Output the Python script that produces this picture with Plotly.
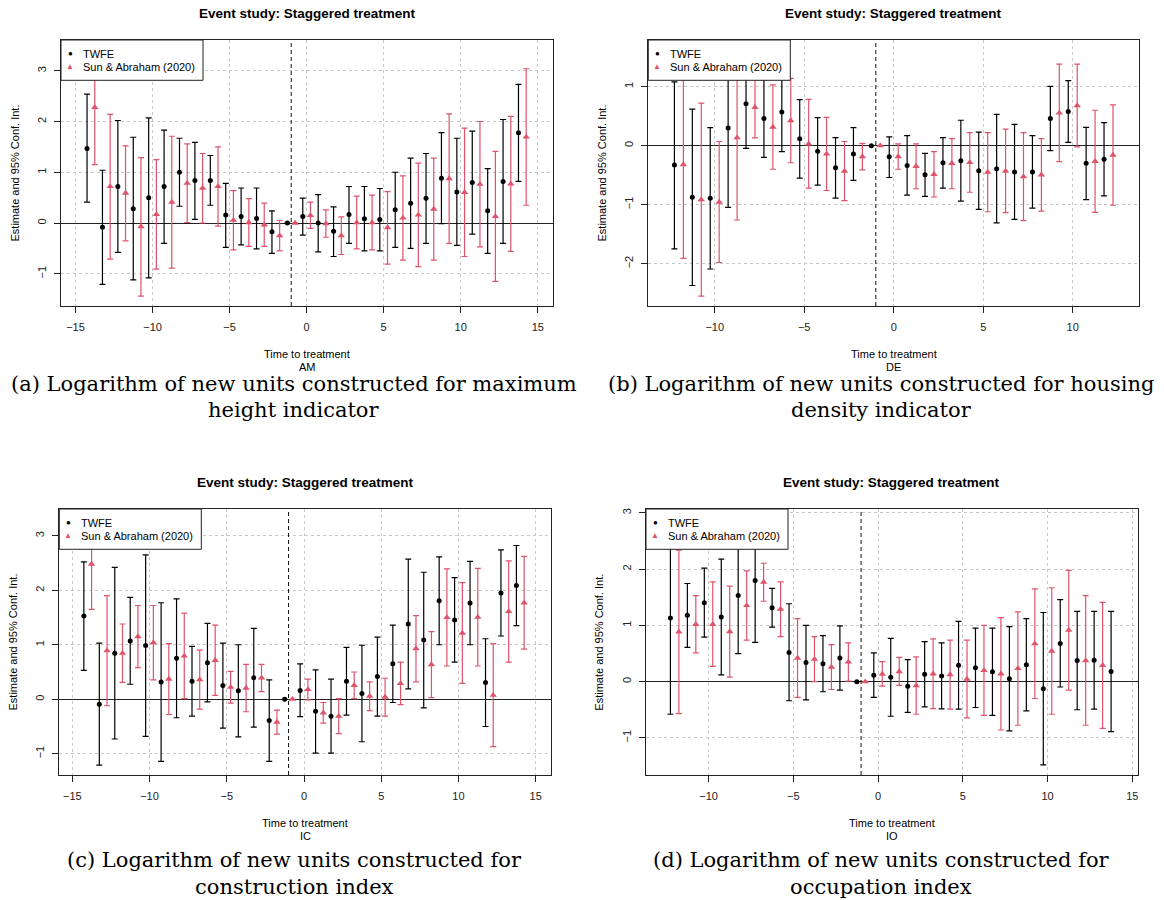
import plotly.graph_objects as go

W, H = 1164, 900


def px(x):
    return x / W


def py(y):
    return 1 - y / H


RED = "#DF536B"
SANS = "Liberation Sans, Arial, Helvetica, sans-serif"
SERIF = "DejaVu Serif, serif"

# ---------------- data ----------------
# Panel (a) AM
AM_periods = list(range(-14, 15))
AM_twfe_est = [1.47, -0.085, 0.72, 0.28, 0.50, 0.72, 1.00, 0.84, 0.84, 0.16, 0.13, 0.09, -0.17, 0.0,
               0.13, 0.00, -0.16, 0.17, 0.085, 0.07, 0.26, 0.39, 0.49, 0.88, 0.61, 0.80, 0.24, 0.82, 1.78]
AM_twfe_lo = [0.41, -1.21, -0.58, -1.12, -1.08, -0.40, 0.33, 0.07, 0.35, -0.48, -0.43, -0.51, -0.60, None,
              -0.24, -0.57, -0.66, -0.40, -0.55, -0.55, -0.48, -0.50, -0.40, -0.01, -0.44, -0.22, -0.60, -0.40, 0.82]
AM_twfe_hi = [2.54, 1.04, 2.02, 1.69, 2.07, 1.83, 1.67, 1.59, 1.33, 0.78, 0.69, 0.69, 0.24, None,
              0.49, 0.56, 0.32, 0.72, 0.72, 0.68, 1.00, 1.28, 1.37, 1.78, 1.67, 1.81, 1.07, 2.04, 2.73]
AM_sa_est = [2.28, 0.72, 0.59, -0.07, 0.17, 0.41, 0.785, 0.69, 0.72, 0.055, 0.01, -0.035, -0.25, 0.0,
             0.15, -0.01, -0.25, 0.01, 0.01, -0.09, 0.10, 0.16, 0.275, 0.875, 0.605, 0.765, 0.13, 0.77, 1.695]
AM_sa_lo = [1.15, -0.71, -0.35, -1.44, -0.91, -0.89, 0.01, 0.00, -0.06, -0.53, -0.46, -0.46, -0.55, None,
            -0.105, -0.28, -0.62, -0.51, -0.53, -0.81, -0.73, -0.86, -0.73, -0.40, -0.66, -0.47, -1.15, -0.56, 0.35]
AM_sa_hi = [3.41, 2.14, 1.52, 1.29, 1.25, 1.71, 1.56, 1.37, 1.50, 0.64, 0.48, 0.39, 0.05, None,
            0.41, 0.26, 0.12, 0.53, 0.55, 0.62, 0.93, 1.18, 1.28, 2.15, 1.87, 2.00, 1.41, 2.10, 3.04]

# Panel (b) DE
DE_periods = list(range(-12, 13))
DE_twfe_est = [-0.33, -0.875, -0.89, 0.30, 0.71, 0.46, 0.57, 0.115, -0.095, -0.375, -0.14, 0.0,
               -0.19, -0.335, -0.495, -0.29, -0.255, -0.425, -0.39, -0.445, -0.445, 0.46, 0.58, -0.30, -0.23]
DE_twfe_lo = [-1.75, -2.37, -2.09, -1.045, -0.045, -0.20, -0.10, -0.55, -0.67, -0.89, -0.59, None,
              -0.54, -0.84, -0.86, -0.72, -0.94, -1.08, -1.31, -1.25, -1.06, -0.085, 0.056, -0.915, -0.85]
DE_twfe_hi = [1.08, 0.62, 0.305, 1.65, 1.47, 1.12, 1.24, 0.78, 0.475, 0.135, 0.305, None,
              0.15, 0.17, -0.13, 0.135, 0.43, 0.23, 0.53, 0.36, 0.17, 1.005, 1.10, 0.31, 0.39]
DE_sa_est = [-0.32, -0.915, -0.955, 0.135, 0.65, 0.315, 0.425, 0.03, -0.14, -0.43, -0.185, 0.0,
             -0.185, -0.35, -0.485, -0.30, -0.285, -0.45, -0.43, -0.525, -0.495, 0.555, 0.68, -0.265, -0.16]
DE_sa_lo = [-1.91, -2.55, -1.98, -1.26, 0.13, -0.40, -0.29, -0.72, -0.76, -0.93, -0.41, None,
            -0.40, -0.73, -0.87, -0.73, -0.79, -1.12, -1.135, -1.27, -1.11, -0.27, -0.02, -1.13, -1.01]
DE_sa_hi = [1.27, 0.72, 0.07, 1.53, 1.17, 1.03, 1.14, 0.785, 0.48, 0.07, 0.04, None,
            0.03, 0.03, -0.10, 0.12, 0.22, 0.22, 0.28, 0.22, 0.12, 1.38, 1.38, 0.60, 0.69]

# Panel (c) IC
IC_periods = list(range(-14, 15))
IC_twfe_est = [1.525, -0.09, 0.845, 1.07, 0.985, 0.315, 0.75, 0.33, 0.67, 0.25, 0.155, 0.395, -0.39, 0.0,
               0.16, -0.22, -0.31, 0.33, 0.105, 0.415, 0.65, 1.38, 1.085, 1.805, 1.455, 1.765, 0.305, 1.95, 2.085]
IC_twfe_lo = [0.53, -1.21, -0.73, 0.275, -0.68, -1.14, -0.34, -0.31, -0.05, -0.53, -0.69, -0.51, -1.14, None,
              -0.32, -0.99, -0.99, -0.29, -0.78, -0.31, -0.06, 0.19, -0.16, 1.00, 0.68, 1.00, -0.50, 1.16, 1.35]
IC_twfe_hi = [2.52, 1.03, 2.42, 1.87, 2.65, 1.77, 1.84, 0.97, 1.39, 1.03, 1.00, 1.30, 0.355, None,
              0.65, 0.54, 0.37, 0.95, 0.99, 1.14, 1.36, 2.57, 2.33, 2.61, 2.23, 2.53, 1.11, 2.74, 2.82]
IC_sa_est = [2.48, 0.89, 0.845, 1.15, 1.04, 0.37, 0.795, 0.36, 0.715, 0.22, 0.205, 0.39, -0.42, 0.0,
             0.18, -0.25, -0.31, 0.255, 0.055, 0.04, 0.29, 0.93, 0.635, 1.50, 1.215, 1.505, 0.075, 1.61, 1.77]
IC_sa_lo = [1.65, -0.12, 0.31, 0.58, 0.355, -0.28, 0.01, -0.18, 0.07, -0.07, -0.23, 0.14, -0.64, None,
            -0.01, -0.44, -0.63, 0.01, -0.21, -0.31, -0.10, 0.32, 0.03, 0.61, 0.29, 0.61, -0.87, 0.68, 0.92]
IC_sa_hi = [3.31, 1.90, 1.38, 1.72, 1.72, 1.02, 1.58, 0.90, 1.36, 0.51, 0.64, 0.64, -0.20, None,
            0.37, -0.06, 0.01, 0.50, 0.32, 0.385, 0.68, 1.535, 1.24, 2.39, 2.14, 2.40, 1.02, 2.54, 2.62]

# Panel (d) IO
IO_twfe_periods = list(range(-12, 15))
IO_twfe_est = [1.13, 1.18, 1.405, 1.15, 1.53, 1.80, 1.315, 0.52, 0.34, 0.32, 0.42, 0.0,
               0.115, 0.08, -0.08, 0.13, 0.10, 0.29, 0.245, 0.175, 0.05, 0.30, -0.125, 0.68, 0.375, 0.38, 0.18]
IO_twfe_lo = [-0.58, 0.61, 0.79, 0.12, 0.50, 0.70, 0.97, -0.34, -0.325, -0.18, -0.15, None,
              -0.28, -0.615, -0.545, -0.45, -0.485, -0.49, -0.46, -0.60, -0.875, -0.52, -1.48, -0.095, -0.50, -0.49, -0.89]
IO_twfe_hi = [2.84, 1.745, 2.02, 2.18, 2.56, 2.90, 1.66, 1.385, 1.00, 0.82, 0.99, None,
              0.51, 0.77, 0.39, 0.71, 0.69, 1.07, 0.95, 0.95, 0.98, 1.12, 1.23, 1.46, 1.25, 1.25, 1.25]
IO_sa_periods = list(range(-12, 14))
IO_sa_est = [0.885, 1.02, 1.02, 0.89, 1.355, 1.77, 1.29, 0.42, 0.40, 0.26, 0.35, 0.0,
             0.135, 0.18, -0.07, 0.14, 0.125, 0.045, 0.20, 0.14, 0.235, 0.675, 0.545, 0.915, 0.375, 0.29]
IO_sa_lo = [-0.57, 0.51, 0.27, 0.08, 0.74, 1.43, 0.80, -0.28, 0.00, -0.14, 0.01, None,
            -0.08, -0.065, -0.58, -0.48, -0.49, -0.645, -0.60, -0.86, -0.775, -0.30, -0.58, -0.15, -0.775, -0.83]
IO_sa_hi = [2.34, 1.53, 1.775, 1.70, 1.97, 2.105, 1.775, 1.12, 0.80, 0.66, 0.69, None,
            0.355, 0.43, 0.44, 0.76, 0.74, 0.74, 1.00, 1.14, 1.24, 1.65, 1.67, 1.98, 1.53, 1.41]

TITLE = "Event study: Staggered treatment"
XLAB = "Time to treatment"
YLAB = "Estimate and 95% Conf. Int."
LEG_TWFE = "TWFE"
LEG_SA = "Sun & Abraham (2020)"

panels = [
    dict(sub="AM", tp=AM_periods, te=AM_twfe_est, tl=AM_twfe_lo, th=AM_twfe_hi,
         sp=AM_periods, se=AM_sa_est, sl=AM_sa_lo, sh=AM_sa_hi,
         box=(61, 40, 553, 306), xr=[-15.94, 15.99], yr=[-1.635, 3.606],
         xt=[-15, -10, -5, 0, 5, 10, 15], yt=[-1, 0, 1, 2, 3],
         ylab_x=14.5,
         cap=["(a) Logarithm of new units constructed for maximum", "height indicator"],
         cap_x=294, cap_y=[383.5, 410]),
    dict(sub="DE", tp=DE_periods, te=DE_twfe_est, tl=DE_twfe_lo, th=DE_twfe_hi,
         sp=DE_periods, se=DE_sa_est, sl=DE_sa_lo, sh=DE_sa_hi,
         box=(648.3, 40, 1139.3, 306), xr=[-13.71, 13.72], yr=[-2.717, 1.79],
         xt=[-10, -5, 0, 5, 10], yt=[-2, -1, 0, 1],
         ylab_x=601.5,
         cap=["(b) Logarithm of new units constructed for housing", "density indicator"],
         cap_x=881, cap_y=[383.5, 410]),
    dict(sub="IC", tp=IC_periods, te=IC_twfe_est, tl=IC_twfe_lo, th=IC_twfe_hi,
         sp=IC_periods, se=IC_sa_est, sl=IC_sa_lo, sh=IC_sa_hi,
         box=(59.3, 509, 550.7, 775), xr=[-15.84, 15.97], yr=[-1.39, 3.49],
         xt=[-15, -10, -5, 0, 5, 10, 15], yt=[-1, 0, 1, 2, 3],
         ylab_x=12.5,
         cap=["(c) Logarithm of new units constructed for", "construction index"],
         cap_x=294, cap_y=[860, 886.5]),
    dict(sub="IO", tp=IO_twfe_periods, te=IO_twfe_est, tl=IO_twfe_lo, th=IO_twfe_hi,
         sp=IO_sa_periods, se=IO_sa_est, sl=IO_sa_lo, sh=IO_sa_hi,
         box=(646, 509, 1137.7, 775), xr=[-13.69, 15.32], yr=[-1.66, 3.07],
         xt=[-10, -5, 0, 5, 10, 15], yt=[-1, 0, 1, 2, 3],
         ylab_x=598.7,
         cap=["(d) Logarithm of new units constructed for", "occupation index"],
         cap_x=881, cap_y=[860, 886.5]),
]


def err_plus(est, hi):
    return [None if h is None else h - e for e, h in zip(est, hi)]


def err_minus(est, lo):
    return [None if l is None else e - l for e, l in zip(est, lo)]


fig = go.Figure()
annotations = []
shapes = []
layout_axes = {}

for i, p in enumerate(panels):
    n = "" if i == 0 else str(i + 1)
    xa, ya = "x" + n, "y" + n
    L, T, R, B = p["box"]

    fig.add_trace(go.Scatter(
        x=[k - 0.25 for k in p["tp"]], y=p["te"], xaxis=xa, yaxis=ya,
        mode="markers", showlegend=False, hoverinfo="skip",
        marker=dict(symbol="circle", size=5, color="black"),
        error_y=dict(type="data", symmetric=False,
                     array=err_plus(p["te"], p["th"]),
                     arrayminus=err_minus(p["te"], p["tl"]),
                     color="black", thickness=1.2, width=3)))
    fig.add_trace(go.Scatter(
        x=[k + 0.25 for k in p["sp"]], y=p["se"], xaxis=xa, yaxis=ya,
        mode="markers", showlegend=False, hoverinfo="skip",
        marker=dict(symbol="triangle-up", size=6.5, color=RED),
        error_y=dict(type="data", symmetric=False,
                     array=err_plus(p["se"], p["sh"]),
                     arrayminus=err_minus(p["se"], p["sl"]),
                     color=RED, thickness=1.2, width=3)))

    common = dict(showline=True, mirror=True, linecolor="#222222", linewidth=1,
                  ticks="outside", ticklen=6, tickcolor="#222222", tickwidth=1,
                  showgrid=True, gridcolor="#C8C8C8", griddash="dot", gridwidth=1,
                  tickfont=dict(family=SANS, size=11, color="#222222"))
    layout_axes["xaxis" + n] = dict(domain=[px(L), px(R)], range=p["xr"], anchor=ya,
                                    tickvals=p["xt"], zeroline=False,
                                    ticklabelstandoff=5, **common)
    layout_axes["yaxis" + n] = dict(domain=[py(B), py(T)], range=p["yr"], anchor=xa,
                                    tickvals=p["yt"], tickangle=-90,
                                    zeroline=True, zerolinecolor="#222222", zerolinewidth=1,
                                    ticklabelstandoff=4, **common)

    # reference period marker line
    shapes.append(dict(type="line", xref=xa, yref=ya + " domain", x0=-1, x1=-1, y0=0, y1=1,
                       line=dict(color="#111111", width=1, dash="4px,3px")))

    # legend box
    shapes.append(dict(type="rect", xref="paper", yref="paper", layer="above",
                       x0=px(L), x1=px(L + 142), y0=py(T + 40.3), y1=py(T),
                       fillcolor="white", line=dict(color="#222222", width=1)))
    annotations += [
        dict(text="●", x=px(L + 9), y=py(T + 13.5), font=dict(family=SANS, size=8, color="black")),
        dict(text="▲", x=px(L + 9), y=py(T + 26), font=dict(family=SANS, size=8, color=RED)),
        dict(text=LEG_TWFE, x=px(L + 19.5), y=py(T + 14), xanchor="left",
             font=dict(family=SANS, size=11, color="black")),
        dict(text=LEG_SA, x=px(L + 19.5), y=py(T + 26.7), xanchor="left",
             font=dict(family=SANS, size=11, color="black")),
    ]

    cx = (L + R) / 2
    cy = (T + B) / 2
    annotations += [
        dict(text="<b>" + TITLE + "</b>", x=px(cx), y=py(T - 26), font=dict(family=SANS, size=13.5, color="black")),
        dict(text=XLAB, x=px(cx), y=py(B + 48.3), font=dict(family=SANS, size=11, color="black")),
        dict(text=p["sub"], x=px(cx), y=py(B + 61.2), font=dict(family=SANS, size=11, color="black")),
        dict(text=YLAB, x=px(p["ylab_x"]), y=py(cy), textangle=-90,
             font=dict(family=SANS, size=11, color="black")),
        dict(text=p["cap"][0], x=px(p["cap_x"]), y=py(p["cap_y"][0]),
             font=dict(family=SERIF, size=21, color="black")),
        dict(text=p["cap"][1], x=px(p["cap_x"]), y=py(p["cap_y"][1]),
             font=dict(family=SERIF, size=21, color="black")),
    ]

for a in annotations:
    a.setdefault("xref", "paper")
    a.setdefault("yref", "paper")
    a.setdefault("xanchor", "center")
    a.setdefault("yanchor", "middle")
    a["showarrow"] = False

fig.update_layout(
    width=W, height=H, autosize=False,
    margin=dict(l=0, r=0, t=0, b=0, pad=0),
    paper_bgcolor="white", plot_bgcolor="white",
    showlegend=False,
    annotations=annotations, shapes=shapes,
    **layout_axes,
)

fig.write_html("out.html")
